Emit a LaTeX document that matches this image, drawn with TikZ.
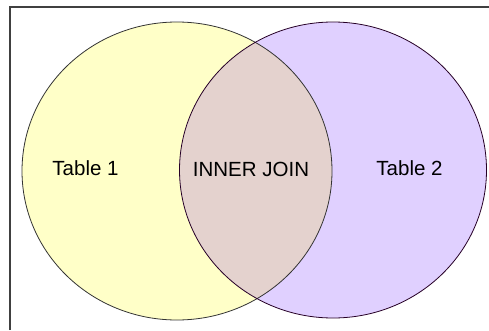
\documentclass[tikz,border=0pt]{standalone}
\usepackage{fontspec}
\setmainfont{Liberation Sans}
\usepackage{tikz}
\definecolor{tabone}{RGB}{255,255,200}
\definecolor{tabtwo}{RGB}{224,208,255}
\definecolor{joined}{RGB}{228,210,206}
\begin{document}
\begin{tikzpicture}[x=1pt,y=1pt,
	setline/.style={draw=black!80,line width=0.8pt},
	setlabel/.style={anchor=base,font=\fontsize{20.5}{24}\selectfont,inner sep=0pt}]
	\useasboundingbox (0,0) rectangle (489,330);
	\fill[white] (0,0) rectangle (489,330);
	\draw[black!75,line width=1.2pt] (10,0) -- (10,323) -- (489,323);

	\fill[tabone] (177,159) ellipse [x radius=155pt,y radius=149pt];
	\fill[tabtwo] (333,160) ellipse [x radius=153.5pt,y radius=148pt];
	\begin{scope}
		\clip (177,159) ellipse [x radius=155pt,y radius=149pt];
		\fill[joined] (333,160) ellipse [x radius=153.5pt,y radius=148pt];
	\end{scope}
	\draw[setline] (177,159) ellipse [x radius=155pt,y radius=149pt];
	\draw[setline,draw=black!70!violet] (333,160) ellipse [x radius=153.5pt,y radius=148pt];

	\node[setlabel] (t1) at (85.5,155) {Table 1};
	\node[setlabel] (ij) at (251,153.3) {INNER JOIN};
	\node[setlabel] (t2) at (409.5,155) {Table 2};
\end{tikzpicture}
\end{document}
